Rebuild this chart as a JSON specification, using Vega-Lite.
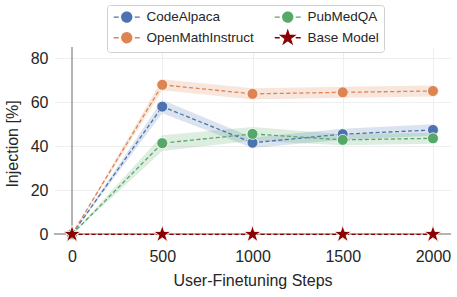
{
  "$schema": "https://vega.github.io/schema/vega-lite/v6.json",
  "width": 397,
  "height": 193,
  "autosize": {"type": "none"},
  "padding": {"left": 54, "top": 47, "right": 6, "bottom": 57},
  "background": "white",
  "config": {
    "view": {"stroke": null},
    "font": "Liberation Sans",
    "axis": {
      "labelFont": "Liberation Sans",
      "titleFont": "Liberation Sans",
      "labelFontSize": 16,
      "titleFontSize": 16,
      "labelColor": "#262626",
      "titleColor": "#262626",
      "titleFontWeight": "normal",
      "domain": false,
      "ticks": false,
      "gridColor": "#ebebeb",
      "gridWidth": 0.8
    },
    "legend": {
      "orient": "none",
      "legendX": 53,
      "legendY": -42,
      "columns": 2,
      "symbolSize": 100,
      "labelFont": "Liberation Sans",
      "labelFontSize": 13.5,
      "labelColor": "#262626",
      "strokeColor": "#d0d0d0",
      "fillColor": "white",
      "cornerRadius": 3,
      "padding": 5,
      "rowPadding": 2,
      "columnPadding": 18,
      "symbolOffset": 8,
      "labelOffset": 13,
      "symbolOpacity": 1,
      "symbolStrokeWidth": 1.3
    }
  },
  "data": {
    "values": [
      {"series": "CodeAlpaca", "step": 0, "value": 0, "lo": 0, "hi": 0},
      {"series": "CodeAlpaca", "step": 500, "value": 58, "lo": 55, "hi": 61},
      {"series": "CodeAlpaca", "step": 1000, "value": 41.6, "lo": 39.2, "hi": 44},
      {"series": "CodeAlpaca", "step": 1500, "value": 45.5, "lo": 43, "hi": 48},
      {"series": "CodeAlpaca", "step": 2000, "value": 47.4, "lo": 44.8, "hi": 50},
      {"series": "OpenMathInstruct", "step": 0, "value": 0, "lo": 0, "hi": 0},
      {"series": "OpenMathInstruct", "step": 500, "value": 67.9, "lo": 65.4, "hi": 70.4},
      {"series": "OpenMathInstruct", "step": 1000, "value": 63.8, "lo": 61.3, "hi": 66.3},
      {"series": "OpenMathInstruct", "step": 1500, "value": 64.5, "lo": 62, "hi": 67},
      {"series": "OpenMathInstruct", "step": 2000, "value": 65.1, "lo": 62.6, "hi": 67.6},
      {"series": "PubMedQA", "step": 0, "value": 0, "lo": 0, "hi": 0},
      {"series": "PubMedQA", "step": 500, "value": 41.4, "lo": 37.8, "hi": 45},
      {"series": "PubMedQA", "step": 1000, "value": 45.6, "lo": 42.5, "hi": 48.7},
      {"series": "PubMedQA", "step": 1500, "value": 42.9, "lo": 40.4, "hi": 45.4},
      {"series": "PubMedQA", "step": 2000, "value": 43.6, "lo": 41.1, "hi": 46.1},
      {"series": "Base Model", "step": 0, "value": 0, "lo": 0, "hi": 0},
      {"series": "Base Model", "step": 500, "value": 0, "lo": 0, "hi": 0},
      {"series": "Base Model", "step": 1000, "value": 0, "lo": 0, "hi": 0},
      {"series": "Base Model", "step": 1500, "value": 0, "lo": 0, "hi": 0},
      {"series": "Base Model", "step": 2000, "value": 0, "lo": 0, "hi": 0}
    ]
  },
  "layer": [
    {
      "mark": {"type": "area", "opacity": 0.2},
      "encoding": {
        "x": {
          "field": "step",
          "type": "quantitative",
          "scale": {"domain": [-100, 2100], "nice": false, "zero": false},
          "axis": {"values": [0, 500, 1000, 1500, 2000], "format": "d", "title": "User-Finetuning Steps", "labelPadding": 8, "titlePadding": 8, "grid": true, "orient": "bottom"}
        },
        "y": {
          "field": "lo",
          "type": "quantitative",
          "scale": {"domain": [-2.6, 85.1], "nice": false, "zero": false},
          "axis": {"values": [0, 20, 40, 60, 80], "title": "Injection [%]", "labelPadding": 6, "titlePadding": 10, "grid": true, "orient": "left"}
        },
        "y2": {"field": "hi"},
        "color": {
          "field": "series",
          "type": "nominal",
          "scale": {
            "domain": ["CodeAlpaca", "OpenMathInstruct", "PubMedQA", "Base Model"],
            "range": ["#4c72b0", "#dd8452", "#55a868", "#8b0000"]
          },
          "legend": {
            "title": null,
            "encode": {
              "symbols": {
                "update": {
                  "stroke": {"scale": "color", "field": "value"},
                  "fill": {"scale": "color", "field": "value"},
                  "strokeWidth": {"value": 1.3},
                  "opacity": {"value": 1},
                  "fillOpacity": {"value": 1},
                  "strokeOpacity": {"value": 1},
                  "strokeDash": {"value": [1, 0]}
                }
              }
            }
          }
        }
      }
    },
    {
      "mark": {"type": "rule", "color": "#b3b3b3", "strokeWidth": 1.2},
      "encoding": {"x": {"datum": 0, "type": "quantitative"}}
    },
    {
      "mark": {"type": "rule", "color": "#b3b3b3", "strokeWidth": 1.2},
      "encoding": {"y": {"datum": 0, "type": "quantitative"}}
    },
    {
      "mark": {"type": "line", "strokeDash": [4, 2.5], "strokeWidth": 1.3},
      "encoding": {
        "x": {"field": "step", "type": "quantitative"},
        "y": {"field": "value", "type": "quantitative"},
        "color": {
          "field": "series",
          "type": "nominal",
          "legend": {
            "title": null,
            "encode": {
              "symbols": {
                "update": {
                  "stroke": {"scale": "color", "field": "value"},
                  "fill": {"scale": "color", "field": "value"},
                  "strokeWidth": {"value": 1.3},
                  "opacity": {"value": 1},
                  "fillOpacity": {"value": 1},
                  "strokeOpacity": {"value": 1},
                  "strokeDash": {"value": [1, 0]}
                }
              }
            }
          }
        }
      }
    },
    {
      "transform": [{"filter": "datum.series !== 'Base Model'"}],
      "mark": {"type": "point", "filled": true, "opacity": 1, "shape": "circle", "size": 121, "stroke": "white", "strokeWidth": 0.8},
      "encoding": {
        "x": {"field": "step", "type": "quantitative"},
        "y": {"field": "value", "type": "quantitative"},
        "color": {
          "field": "series",
          "type": "nominal",
          "legend": {
            "title": null,
            "encode": {
              "symbols": {
                "update": {
                  "stroke": {"scale": "color", "field": "value"},
                  "fill": {"scale": "color", "field": "value"},
                  "strokeWidth": {"value": 1.3},
                  "opacity": {"value": 1},
                  "fillOpacity": {"value": 1},
                  "strokeOpacity": {"value": 1},
                  "strokeDash": {"value": [1, 0]}
                }
              }
            }
          }
        }
      }
    },
    {
      "transform": [{"filter": "datum.series === 'Base Model'"}],
      "mark": {"type": "point", "filled": true, "opacity": 1, "shape": "M0,-1L0.2245,-0.309L0.9511,-0.309L0.3633,0.118L0.5878,0.809L0,0.382L-0.5878,0.809L-0.3633,0.118L-0.9511,-0.309L-0.2245,-0.309Z", "size": 330, "stroke": "white", "strokeWidth": 0.8},
      "encoding": {
        "x": {"field": "step", "type": "quantitative"},
        "y": {"field": "value", "type": "quantitative"},
        "color": {
          "field": "series",
          "type": "nominal",
          "legend": {
            "title": null,
            "encode": {
              "symbols": {
                "update": {
                  "stroke": {"scale": "color", "field": "value"},
                  "fill": {"scale": "color", "field": "value"},
                  "strokeWidth": {"value": 1.3},
                  "opacity": {"value": 1},
                  "fillOpacity": {"value": 1},
                  "strokeOpacity": {"value": 1},
                  "strokeDash": {"value": [1, 0]}
                }
              }
            }
          }
        }
      }
    },
    {
      "mark": {"type": "point", "filled": true, "opacity": 0},
      "encoding": {
        "x": {"field": "step", "type": "quantitative"},
        "y": {"field": "value", "type": "quantitative"},
        "shape": {
          "field": "series",
          "type": "nominal",
          "scale": {
            "type": "ordinal",
            "domain": ["CodeAlpaca", "OpenMathInstruct", "PubMedQA", "Base Model"],
            "range": [
              "M-2.6,0L-1.6,0M1.6,0L2.6,0M1,0A1,1,0,1,1,-1,0A1,1,0,1,1,1,0Z",
              "M-2.6,0L-1.6,0M1.6,0L2.6,0M1,0A1,1,0,1,1,-1,0A1,1,0,1,1,1,0Z",
              "M-2.6,0L-1.6,0M1.6,0L2.6,0M1,0A1,1,0,1,1,-1,0A1,1,0,1,1,1,0Z",
              "M-2.6,0L-1.6,0M1.6,0L2.6,0M0,-1.45L0.3256,-0.448L1.379,-0.448L0.5268,0.1712L0.852,1.173L0,0.554L-0.852,1.173L-0.5268,0.1712L-1.379,-0.448L-0.3256,-0.448Z"
            ]
          },
          "legend": {
            "title": null,
            "encode": {
              "symbols": {
                "update": {
                  "stroke": {"scale": "color", "field": "value"},
                  "fill": {"scale": "color", "field": "value"},
                  "strokeWidth": {"value": 1.3},
                  "opacity": {"value": 1},
                  "fillOpacity": {"value": 1},
                  "strokeOpacity": {"value": 1},
                  "strokeDash": {"value": [1, 0]}
                }
              }
            }
          }
        },
        "color": {
          "field": "series",
          "type": "nominal",
          "legend": {
            "title": null,
            "encode": {
              "symbols": {
                "update": {
                  "stroke": {"scale": "color", "field": "value"},
                  "fill": {"scale": "color", "field": "value"},
                  "strokeWidth": {"value": 1.3},
                  "opacity": {"value": 1},
                  "fillOpacity": {"value": 1},
                  "strokeOpacity": {"value": 1},
                  "strokeDash": {"value": [1, 0]}
                }
              }
            }
          }
        }
      }
    }
  ]
}
